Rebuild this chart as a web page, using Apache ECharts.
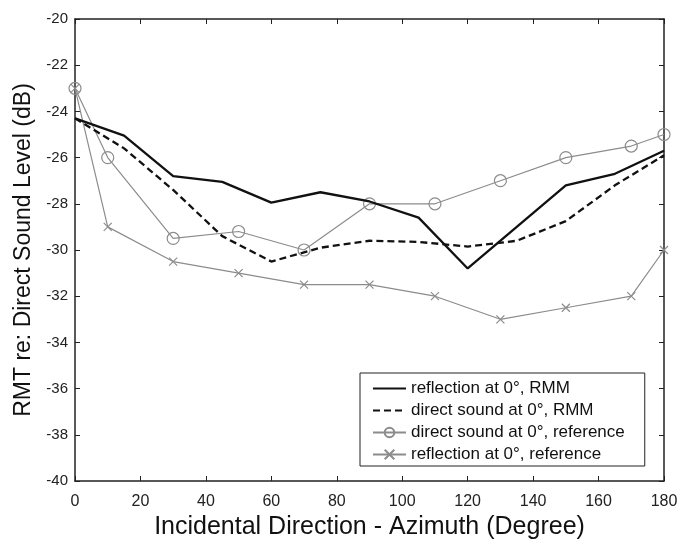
<!DOCTYPE html>
<html>
<head>
<meta charset="utf-8">
<script src="https://cdn.jsdelivr.net/npm/echarts@6/dist/echarts.min.js"></script>
<style>
html,body{margin:0;padding:0;background:#fff;}
#chart{width:684px;height:545px;}
</style>
</head>
<body>
<div id="chart"></div>
<script>
// ---- data ----
const seriesNames = [
  'reflection at 0°, RMM',
  'direct sound at 0°, RMM',
  'direct sound at 0°, reference',
  'reflection at 0°, reference'
];
const reflRmmAngles = [0, 15, 30, 45, 60, 75, 90, 105, 120, 150, 165, 180];
const reflRmm = [-24.3, -25.05, -26.8, -27.05, -27.95, -27.5, -27.9, -28.6, -30.8, -27.2, -26.7, -25.7];
const directRmmAngles = [0, 15, 30, 45, 60, 75, 90, 105, 120, 135, 150, 165, 180];
const directRmm = [-24.3, -25.6, -27.4, -29.4, -30.5, -29.9, -29.6, -29.65, -29.85, -29.6, -28.75, -27.2, -25.9];
const refAngles = [0, 10, 30, 50, 70, 90, 110, 130, 150, 170, 180];
const directRef = [-23, -26, -29.5, -29.2, -30, -28, -28, -27, -26, -25.5, -25];
const reflRef = [-23, -29, -30.5, -31, -31.5, -31.5, -32, -33, -32.5, -32, -30];
const xTitle = 'Incidental Direction - Azimuth (Degree)';
const yTitle = 'RMT re: Direct Sound Level (dB)';
const xMin = 0, xMax = 180, xStep = 20;
const yMin = -40, yMax = -20, yStep = 2;

function pairs(xs, ys) { return xs.map((x, i) => [x, ys[i]]); }

const FONT = '"Liberation Sans", Arial, Helvetica, sans-serif';
const AX = '#222';
const GRAY = '#8c8c8c';

function mkX(primary) {
  return {
    type: 'value', min: xMin, max: xMax, interval: xStep,
    position: primary ? 'bottom' : 'top',
    axisLine: { show: true, onZero: false, lineStyle: { color: AX, width: 1.5 } },
    axisTick: { show: true, inside: true, length: 5, lineStyle: { color: AX, width: 1 } },
    axisLabel: { show: primary, fontSize: 16, color: '#222', margin: 13, fontFamily: FONT },
    splitLine: { show: false },
    name: primary ? xTitle : '',
    nameLocation: 'middle', nameGap: 34,
    nameTextStyle: { fontSize: 25, color: '#111', fontFamily: FONT }
  };
}
function mkY(primary) {
  return {
    type: 'value', min: yMin, max: yMax, interval: yStep,
    position: primary ? 'left' : 'right',
    axisLine: { show: true, onZero: false, lineStyle: { color: AX, width: 1.5 } },
    axisTick: { show: true, inside: true, length: 5, lineStyle: { color: AX, width: 1 } },
    axisLabel: { show: primary, fontSize: 15, color: '#222', margin: 7, fontFamily: FONT },
    splitLine: { show: false },
    name: primary ? yTitle : '',
    nameLocation: 'middle', nameGap: 37,
    nameTextStyle: { fontSize: 23, color: '#111', fontFamily: FONT }
  };
}

const chart = echarts.init(document.getElementById('chart'), null, { renderer: 'canvas' });
chart.setOption({
  animation: false,
  backgroundColor: '#fff',
  grid: { left: 75, top: 19, right: 20, bottom: 63 },
  xAxis: [mkX(true), mkX(false)],
  yAxis: [mkY(true), mkY(false)],
  legend: {
    data: [
      { name: seriesNames[0], itemStyle: { opacity: 0 } },
      { name: seriesNames[1], itemStyle: { opacity: 0 } },
      { name: seriesNames[2] },
      { name: seriesNames[3] }
    ],
    orient: 'vertical',
    left: 360, top: 373,
    padding: [7, 20, 3, 12],
    itemGap: 5,
    itemWidth: 33, itemHeight: 12,
    borderColor: '#222', borderWidth: 1,
    backgroundColor: '#fff',
    textStyle: { fontSize: 17, color: '#111', fontFamily: FONT }
  },
  series: [
    {
      name: seriesNames[0], type: 'line', data: pairs(reflRmmAngles, reflRmm),
      symbol: 'none', lineStyle: { color: '#111', width: 2.3 }, itemStyle: { color: '#111' }, z: 4
    },
    {
      name: seriesNames[1], type: 'line', data: pairs(directRmmAngles, directRmm),
      symbol: 'none', lineStyle: { color: '#111', width: 2.3, type: [7, 4] }, itemStyle: { color: '#111' }, z: 4
    },
    {
      name: seriesNames[2], type: 'line', data: pairs(refAngles, directRef),
      symbol: 'circle', symbolSize: 12, showAllSymbol: true,
      lineStyle: { color: GRAY, width: 1.2 },
      itemStyle: { color: 'transparent', borderColor: GRAY, borderWidth: 1.2 }, z: 3
    },
    {
      name: seriesNames[3], type: 'line', data: pairs(refAngles, reflRef),
      symbol: 'path://M0,0L10,10M0,10L10,0', symbolSize: 8, showAllSymbol: true,
      lineStyle: { color: GRAY, width: 1.2 },
      itemStyle: { color: 'transparent', borderColor: GRAY, borderWidth: 1.2 }, z: 3
    }
  ]
});
</script>
</body>
</html>
